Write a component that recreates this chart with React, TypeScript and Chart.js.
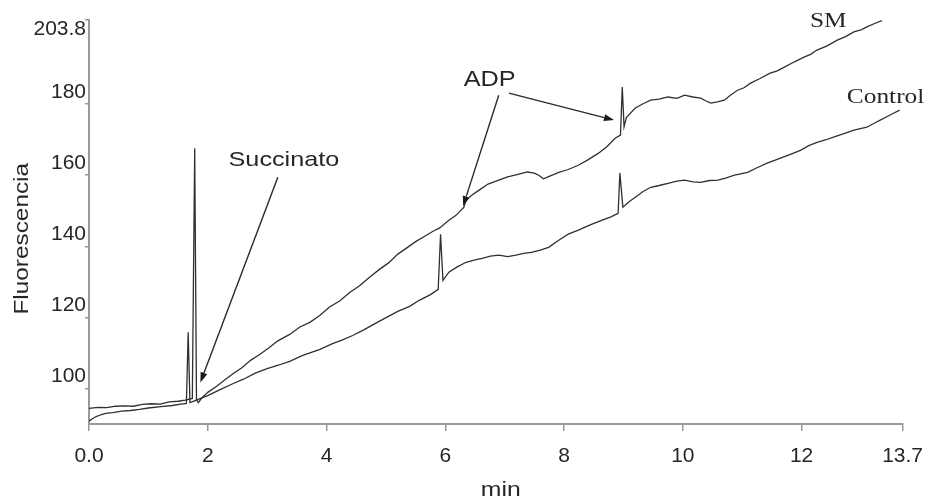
import React, { useEffect, useRef } from 'react';
import { Chart, registerables } from 'chart.js';

Chart.register(...registerables);

// ---- data ----
const smTime = [
  0.0, 0.15, 0.3, 0.45, 0.6, 0.75, 0.9, 1.05, 1.2, 1.35, 1.5, 1.62, 1.74, 1.78, 1.81, 1.84, 1.9,
  2.0, 2.15, 2.3, 2.43, 2.58, 2.72, 2.88, 3.02, 3.18, 3.38, 3.55, 3.72, 3.89, 4.05, 4.22, 4.39,
  4.55, 4.72, 4.89, 5.05, 5.2, 5.34, 5.5, 5.66, 5.8, 5.9, 6.05, 6.18, 6.26, 6.31, 6.35, 6.45,
  6.57, 6.72, 6.9, 7.05, 7.24, 7.38, 7.5, 7.58, 7.65, 7.74, 7.91, 8.07, 8.24, 8.4, 8.58, 8.72,
  8.86, 8.95, 8.98, 9.01, 9.05, 9.2, 9.33, 9.46, 9.6, 9.75, 9.9, 10.03, 10.17, 10.3, 10.4, 10.47,
  10.58, 10.7, 10.8, 10.92, 11.03, 11.14, 11.3, 11.47, 11.58, 11.71, 11.88, 12.04, 12.15, 12.26,
  12.43, 12.6, 12.74, 12.88, 13.0, 13.1, 13.22, 13.35,
];
const smValue = [
  94.4, 94.7, 94.6, 95.0, 95.1, 95.0, 95.5, 95.7, 95.6, 96.2, 96.4, 96.7, 97.2, 167.6, 96.8, 96.0, 97.3,
  98.9, 100.6, 102.6, 104.2, 105.9, 107.9, 109.6, 111.3, 113.4, 115.2, 117.3, 118.6, 120.6, 122.9, 124.6, 127.0,
  128.8, 131.2, 133.5, 135.4, 137.8, 139.4, 141.3, 142.9, 144.3, 145.1, 147.2, 148.7, 150.1, 150.9, 153.0, 154.4,
  155.8, 157.5, 158.6, 159.5, 160.3, 160.9, 160.6, 159.9, 159.0, 159.6, 160.8, 161.6, 162.8, 164.3, 166.2, 168.0,
  170.4, 171.3, 184.8, 173.6, 176.3, 178.9, 180.1, 181.1, 181.4, 182.0, 181.6, 182.5, 182.0, 181.7, 180.8, 180.3,
  180.6, 181.1, 182.5, 183.9, 184.6, 185.9, 187.2, 188.7, 189.3, 190.4, 191.9, 193.2, 194.0, 195.2,
  196.4, 198.0, 199.0, 200.3, 200.9, 201.7, 202.6, 203.5,
];

const controlTime = [
  0.0, 0.05, 0.12, 0.2, 0.28, 0.4, 0.55, 0.7, 0.85, 1.0, 1.21, 1.4, 1.55, 1.64, 1.67, 1.7, 1.79, 1.88,
  2.0, 2.2, 2.43, 2.6, 2.8, 3.0, 3.2, 3.38, 3.6, 3.89, 4.1, 4.25, 4.44, 4.62, 4.8, 5.01, 5.2, 5.4,
  5.56, 5.75, 5.88, 5.92, 5.96, 6.06, 6.2, 6.35, 6.5, 6.62, 6.76, 6.9, 7.05, 7.19, 7.32, 7.45, 7.6,
  7.74, 7.91, 8.07, 8.25, 8.45, 8.63, 8.78, 8.91, 8.94, 8.99, 9.1, 9.2, 9.33, 9.46, 9.6, 9.75, 9.9,
  10.03, 10.17, 10.3, 10.45, 10.59, 10.72, 10.87, 11.09, 11.25, 11.42, 11.6, 11.8, 11.98, 12.12,
  12.26, 12.4, 12.55, 12.7, 12.88, 13.1, 13.3, 13.5, 13.65,
];
const controlValue = [
  90.8, 91.4, 92.1, 92.6, 93.0, 93.2, 93.6, 93.8, 94.1, 94.5, 94.9, 95.2, 95.6, 95.8, 115.8, 96.0, 96.6, 97.2,
  98.0, 99.6, 101.4, 102.6, 104.3, 105.6, 106.6, 107.6, 109.3, 111.0, 112.6, 113.5, 114.9, 116.4, 118.1, 120.0, 121.7, 123.1,
  124.8, 126.4, 127.9, 143.4, 130.4, 132.7, 134.2, 135.5, 136.2, 136.6, 137.2, 137.5, 137.1, 137.5, 138.0, 138.3, 138.9,
  139.7, 141.7, 143.4, 144.6, 146.1, 147.3, 148.2, 149.3, 160.6, 151.0, 152.6, 153.8, 155.4, 156.6, 157.1, 157.7, 158.3,
  158.6, 158.1, 158.0, 158.5, 158.6, 159.2, 160.0, 160.8, 162.1, 163.4, 164.5, 165.8, 167.0, 168.3,
  169.2, 169.9, 170.8, 171.6, 172.7, 173.5, 175.3, 177.0, 178.3,
];

const xTickValues = [0, 2, 4, 6, 8, 10, 12, 13.7];
const xTickLabels = ['0.0', '2', '4', '6', '8', '10', '12', '13.7'];
const yTickValues = [100, 120, 140, 160, 180, 203.8];
const yTickLabels = ['100', '120', '140', '160', '180', '203.8'];

const xTitle = 'min';
const yTitle = 'Fluorescencia';
const seriesNames = ['SM', 'Control'];

// annotation anchors in data coordinates
const succinatoText = { t: 2.35, v: 164.2, text: 'Succinato' };
const adpText = { t: 6.31, v: 186.8, text: 'ADP' };
const smLabel = { t: 12.14, v: 203.2 };
const controlLabel = { t: 12.76, v: 181.7 };
const arrows = [
  { t1: 3.18, v1: 159.4, t2: 1.876, v2: 101.7 },
  { t1: 6.9, v1: 182.5, t2: 6.3, v2: 151.3 },
  { t1: 7.07, v1: 183.1, t2: 8.84, v2: 175.5 },
];

const SANS = '"Liberation Sans", Arial, sans-serif';
const SERIF = '"Liberation Serif", "Times New Roman", serif';
const TEXT_COLOR = '#262626';
const AXIS_COLOR = '#9a9a9a';
const LINE_COLOR = '#303030';

function stretchedText(ctx: CanvasRenderingContext2D, str: string, px: number, py: number, sx: number, align: 'left' | 'center') {
  ctx.save();
  ctx.translate(px, py);
  ctx.scale(sx, 1);
  ctx.textAlign = align;
  ctx.fillText(str, 0, 0);
  ctx.restore();
}

const overlayPlugin = {
  id: 'overlay',
  afterDraw(chart: any) {
    const { ctx, scales, chartArea } = chart;
    const xs = scales.x;
    const ys = scales.y;
    ctx.save();
    ctx.fillStyle = TEXT_COLOR;
    ctx.textBaseline = 'middle';

    // y tick labels
    ctx.font = `21px ${SANS}`;
    ctx.textAlign = 'right';
    yTickValues.forEach((v, i) => {
      const shift = i === yTickValues.length - 1 ? 10 : -12;
      ctx.fillText(yTickLabels[i], chartArea.left - 3, ys.getPixelForValue(v) + shift);
    });

    // axis titles
    ctx.font = `21px ${SANS}`;
    ctx.save();
    ctx.translate(22, (chartArea.top + chartArea.bottom) / 2 + 17);
    ctx.rotate(-Math.PI / 2);
    stretchedText(ctx, yTitle, 0, 0, 1.16, 'center');
    ctx.restore();
    stretchedText(ctx, xTitle, (chartArea.left + chartArea.right) / 2 + 5, 490, 1.18, 'center');

    // annotations
    ctx.font = `21px ${SANS}`;
    stretchedText(ctx, succinatoText.text, xs.getPixelForValue(succinatoText.t), ys.getPixelForValue(succinatoText.v), 1.2, 'left');
    ctx.font = `22px ${SANS}`;
    stretchedText(ctx, adpText.text, xs.getPixelForValue(adpText.t), ys.getPixelForValue(adpText.v), 1.15, 'left');

    ctx.font = `20px ${SERIF}`;
    stretchedText(ctx, seriesNames[0], xs.getPixelForValue(smLabel.t), ys.getPixelForValue(smLabel.v), 1.27, 'left');
    stretchedText(ctx, seriesNames[1], xs.getPixelForValue(controlLabel.t), ys.getPixelForValue(controlLabel.v), 1.27, 'left');

    // arrows
    ctx.strokeStyle = '#2a2a2a';
    ctx.fillStyle = '#1a1a1a';
    ctx.lineWidth = 1.4;
    arrows.forEach((a) => {
      const x1 = xs.getPixelForValue(a.t1);
      const y1 = ys.getPixelForValue(a.v1);
      const x2 = xs.getPixelForValue(a.t2);
      const y2 = ys.getPixelForValue(a.v2);
      const ang = Math.atan2(y2 - y1, x2 - x1);
      const hl = 10;
      const hw = 3.5;
      const bx = x2 - hl * Math.cos(ang);
      const by = y2 - hl * Math.sin(ang);
      ctx.beginPath();
      ctx.moveTo(x1, y1);
      ctx.lineTo(bx, by);
      ctx.stroke();
      ctx.beginPath();
      ctx.moveTo(x2, y2);
      ctx.lineTo(bx + hw * Math.sin(ang), by - hw * Math.cos(ang));
      ctx.lineTo(bx - hw * Math.sin(ang), by + hw * Math.cos(ang));
      ctx.closePath();
      ctx.fill();
    });
    ctx.restore();
  },
};

export default function App() {
  const canvasRef = useRef<HTMLCanvasElement | null>(null);

  useEffect(() => {
    if (!canvasRef.current) return;
    const chart = new Chart(canvasRef.current, {
      type: 'line',
      data: {
        datasets: [
          {
            label: seriesNames[0],
            data: smTime.map((t, i) => ({ x: t, y: smValue[i] })),
            borderColor: LINE_COLOR,
            borderWidth: 1.3,
            pointRadius: 0,
            tension: 0,
            fill: false,
          },
          {
            label: seriesNames[1],
            data: controlTime.map((t, i) => ({ x: t, y: controlValue[i] })),
            borderColor: LINE_COLOR,
            borderWidth: 1.3,
            pointRadius: 0,
            tension: 0,
            fill: false,
          },
        ],
      },
      options: {
        animation: false,
        responsive: true,
        maintainAspectRatio: false,
        layout: { padding: { left: 0, right: 30, top: 19.5, bottom: 0 } },
        plugins: {
          legend: { display: false },
          tooltip: { enabled: false },
        },
        scales: {
          x: {
            type: 'linear',
            min: 0,
            max: 13.7,
            afterBuildTicks: (s: any) => {
              s.ticks = xTickValues.map((v) => ({ value: v }));
            },
            afterFit: (s: any) => {
              s.height = 78;
            },
            ticks: {
              callback: (_v: any, i: number) => xTickLabels[i],
              font: { family: SANS, size: 21 },
              color: TEXT_COLOR,
              padding: 13,
              maxRotation: 0,
              autoSkip: false,
            },
            grid: { drawOnChartArea: false, drawTicks: true, tickLength: 7, color: AXIS_COLOR, lineWidth: 1.5 },
            border: { display: true, color: AXIS_COLOR, width: 2 },
          },
          y: {
            type: 'linear',
            min: 90,
            max: 203.8,
            afterBuildTicks: (s: any) => {
              s.ticks = yTickValues.map((v) => ({ value: v }));
            },
            afterFit: (s: any) => {
              s.width = 89;
            },
            ticks: { display: false },
            grid: { drawOnChartArea: false, drawTicks: true, tickLength: 4, color: AXIS_COLOR, lineWidth: 1.5 },
            border: { display: true, color: AXIS_COLOR, width: 2 },
          },
        },
      },
      plugins: [overlayPlugin],
    } as any);
    return () => chart.destroy();
  }, []);

  return (
    <div style={{ position: 'absolute', left: 0, top: 0, width: 936, height: 502, background: '#fff' }}>
      <canvas ref={canvasRef} />
    </div>
  );
}
